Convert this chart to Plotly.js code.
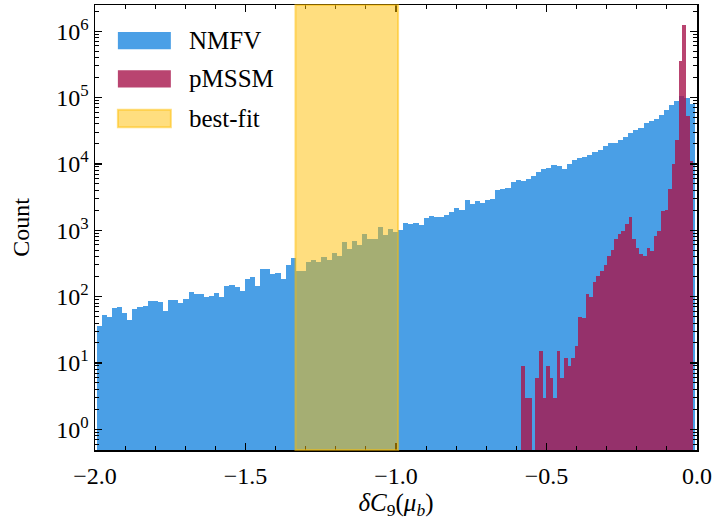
<!DOCTYPE html>
<html>
<head>
<meta charset="utf-8">
<script src="https://cdn.plot.ly/plotly-3.0.1.min.js"></script>
<style>html,body{margin:0;padding:0;background:#fff;}#chart{width:715px;height:520px;}</style>
</head>
<body>
<div id="chart"></div>
<script>
// NMFV histogram: bin start, bin width, counts
const nmfvStart = -1.995;
const nmfvWidth = 0.016984;
const nmfvCounts = [36,52,49,67,69,56,44,65,70,71,85,85,84,60,88,88,80,91,118,111,
  111,97,103,113,100,147,149,142,122,183,195,145,262,259,218,228,185,297,379,244,
  244,330,354,330,397,362,451,416,666,518,690,595,871,750,750,1110,861,1047,934,1024,
  1280,1244,1306,1189,1517,1643,1607,1607,1683,1866,2144,2047,2858,2461,2731,2577,2858,3000,4000,4190,
  4396,5337,5796,5522,5998,6663,7473,8383,8794,9751,9300,8490,10100,11330,12140,12570,13620,14940,16400,18850,
  20600,20900,22860,25750,29000,32000,35000,41000,45000,48300,55000,66000,76000,90000,106000,98000,80000];
// pMSSM histogram
const pmssmStart = -0.5847;
const pmssmWidth = 0.011919;
const pmssmCounts = [9,3,3,0,6,15,3,9,6,3,15,6,12,9,12,18,50,48,108,98,
  165,201,241,297,406,512,740,871,966,1245,1608,728,549,435,411,531,489,815,980,1960,
  2000,4250,9860,23200,354000,1220000,52000,11000];
// best-fit interval
const bestFit = [-1.334, -0.993];
const seriesNames = ['NMFV', 'pMSSM', 'best-fit'];
const xTickVals = [-2.0, -1.5, -1.0, -0.5, 0.0];
const xTickText = ['\u22122.0', '\u22121.5', '\u22121.0', '\u22120.5', '0.0'];
const yTickVals = [1, 10, 100, 1000, 10000, 100000, 1000000];
const yTickText = ['10<sup>0</sup>','10<sup>1</sup>','10<sup>2</sup>','10<sup>3</sup>','10<sup>4</sup>','10<sup>5</sup>','10<sup>6</sup>'];

const blue = '#4a9fe6';
const red = 'rgba(168,21,76,0.8)';
const yellowFill = 'rgba(255,190,0,0.5)';

function centers(start, w, n){ const a=[]; for(let i=0;i<n;i++) a.push(start + (i+0.5)*w); return a; }

const traces = [
  {type:'bar', x: centers(nmfvStart, nmfvWidth, nmfvCounts.length), y: nmfvCounts,
   width: nmfvWidth, marker:{color: blue, line:{width:0}}, name: seriesNames[0], showlegend:false, hoverinfo:'x+y'},
  {type:'bar', x: centers(pmssmStart, pmssmWidth, pmssmCounts.length), y: pmssmCounts,
   width: pmssmWidth, marker:{color: red, line:{width:0}}, name: seriesNames[1], showlegend:false, hoverinfo:'x+y'}
];

const minorY = [];
for (let e=-1;e<=6;e++) for (let d=2; d<=9; d++) minorY.push(d*Math.pow(10,e));

const font = 'Liberation Serif, Times New Roman, serif';

// legend (drawn in paper coordinates)
const lgX0 = 0.038, lgX1 = 0.126, lgTextX = 0.152;
const lgRows = [0.920, 0.834, 0.745];
const lgH = 0.039;
const lgColors = [blue, 'rgba(168,21,76,0.8)', yellowFill];
const shapes = [
  {type:'rect', xref:'x', yref:'paper', x0: bestFit[0], x1: bestFit[1], y0:0, y1:1,
   fillcolor: yellowFill, line:{color:'rgba(255,190,0,0.5)', width:2}, layer:'above'}
];
const annotations = [];
lgRows.forEach((yc, i) => {
  shapes.push({type:'rect', xref:'paper', yref:'paper', x0: lgX0, x1: lgX1, y0: yc-lgH/2, y1: yc+lgH/2,
    fillcolor: lgColors[i], line: i===2 ? {color:'rgba(255,190,0,0.5)', width:2} : {width:0}, layer:'above'});
  annotations.push({xref:'paper', yref:'paper', x: lgTextX, y: yc, xanchor:'left', yanchor:'middle',
    text: seriesNames[i], showarrow:false, font:{family: font, size:25, color:'#000'}});
});

const layout = {
  width:715, height:520,
  margin:{l:95, r:18, t:5, b:70},
  paper_bgcolor:'#fff', plot_bgcolor:'#fff',
  barmode:'overlay', bargap:0,
  font:{family: font, size:24, color:'#000'},
  showlegend:false,
  xaxis:{
    range:[-2, 0], tickmode:'array', tickvals:xTickVals, ticktext:xTickText,
    ticks:'inside', ticklen:7, tickwidth:1.3, tickcolor:'#000',
    showline:true, linecolor:'#000', linewidth:1.5, mirror:'ticks',
    showgrid:false, zeroline:false, ticklabelstandoff:4,
    minor:{tickmode:'linear', tick0:0, dtick:0.1, ticks:'inside', ticklen:4, tickwidth:1, tickcolor:'#000', showgrid:false},
    tickfont:{family: font, size:24},
    title:{text:'<i>δC</i><sub>9</sub>(<i>μ</i><sub><i>b</i></sub>)', font:{family: font, size:25}, standoff:0}
  },
  yaxis:{
    type:'log', range:[-0.312, 6.395], tickmode:'array', tickvals:yTickVals, ticktext:yTickText,
    ticks:'inside', ticklen:7, tickwidth:1.3, tickcolor:'#000',
    showline:true, linecolor:'#000', linewidth:1.5, mirror:'ticks',
    showgrid:false, zeroline:false,
    minor:{tickmode:'array', tickvals:minorY, ticks:'inside', ticklen:4, tickwidth:1, tickcolor:'#000', showgrid:false},
    tickfont:{family: font, size:24},
    title:{text:'Count', font:{family: font, size:24}, standoff:20}
  },
  shapes: shapes,
  annotations: annotations
};

Plotly.newPlot('chart', traces, layout, {displayModeBar:false, staticPlot:true});
</script>
</body>
</html>
